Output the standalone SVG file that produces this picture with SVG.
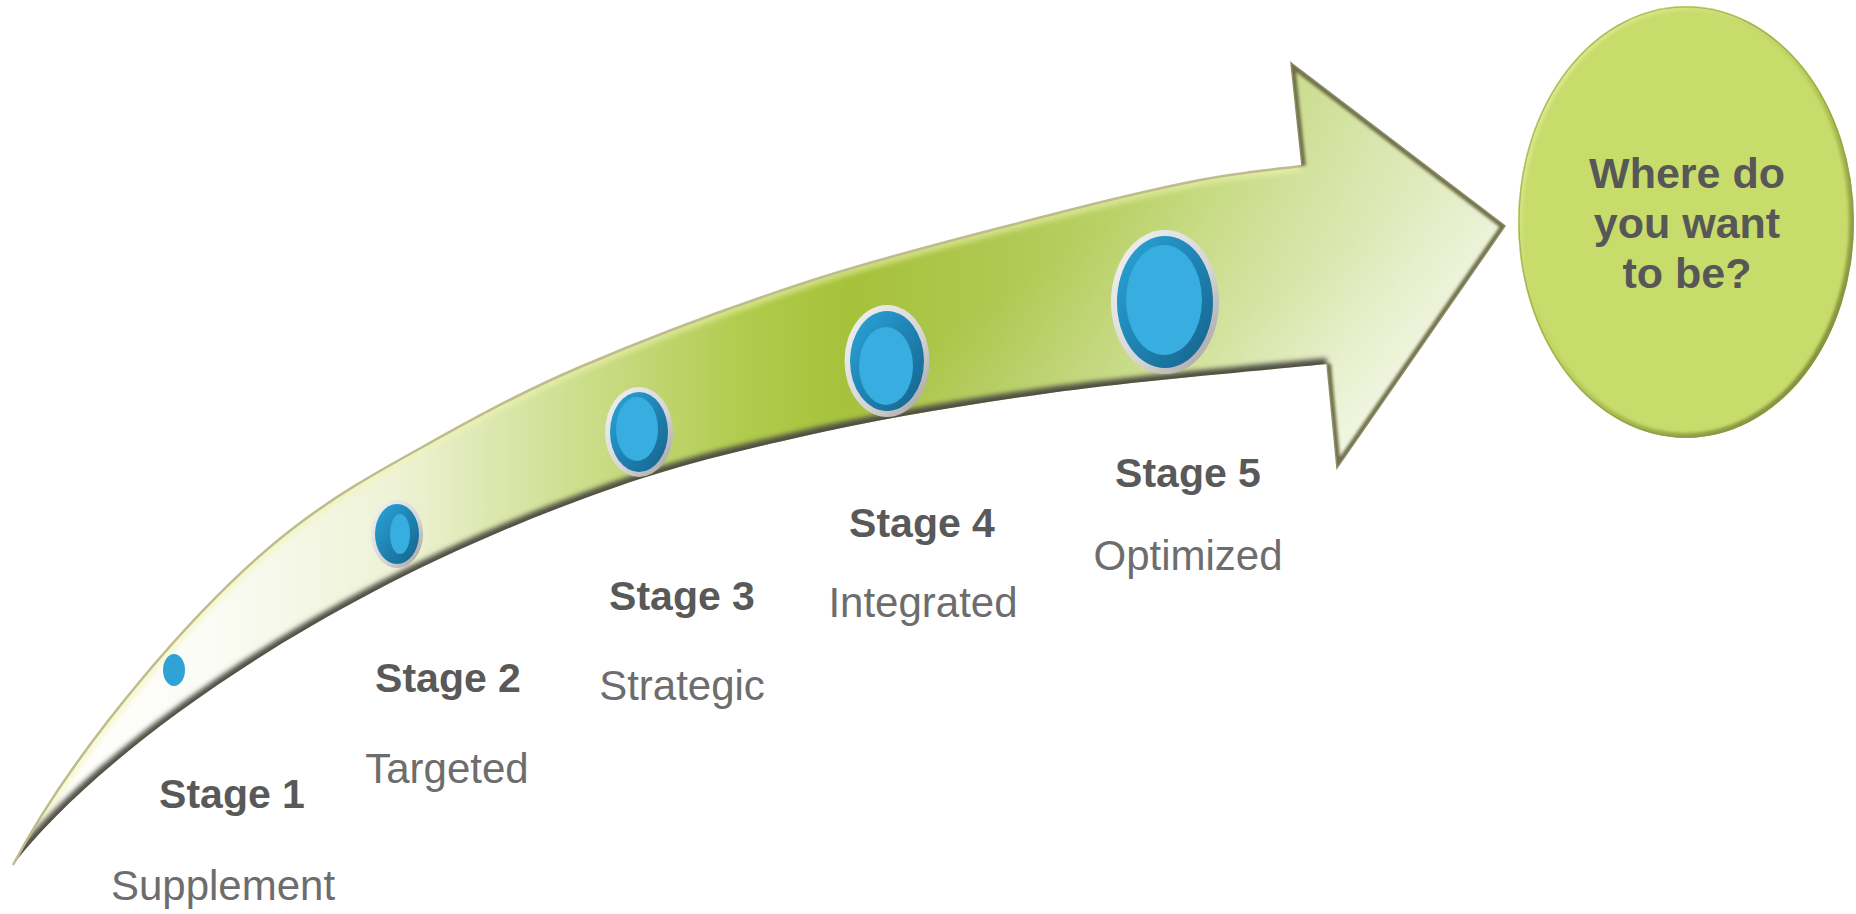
<svg xmlns="http://www.w3.org/2000/svg" xmlns:xlink="http://www.w3.org/1999/xlink" width="1856" height="914" viewBox="0 0 1856 914">
<style>
.st{font-family:"Liberation Sans",Arial,sans-serif;font-weight:bold;font-size:41px;fill:#595959;text-anchor:middle}
.sub{font-family:"Liberation Sans",Arial,sans-serif;font-size:42px;fill:#6d6d6d;text-anchor:middle}
.q{font-family:"Liberation Sans",Arial,sans-serif;font-weight:bold;font-size:43px;fill:#575757;text-anchor:middle}
.rim{fill:url(#rimGrad)}
.ring{fill:url(#ringGrad)}
.core{fill:#37ade0}
</style>
<defs>
<linearGradient id="shaftGrad" gradientUnits="userSpaceOnUse" x1="13" y1="0" x2="1505" y2="0">
<stop offset="0" stop-color="#ffffff"/>
<stop offset="0.13" stop-color="#fbfcf6"/>
<stop offset="0.26" stop-color="#edf2d4"/>
<stop offset="0.36" stop-color="#d2e198"/>
<stop offset="0.49" stop-color="#b1cb4d"/>
<stop offset="0.56" stop-color="#a6c13a"/>
<stop offset="0.66" stop-color="#afc851"/>
<stop offset="0.80" stop-color="#c3d87a"/>
<stop offset="1" stop-color="#dfe9bd"/>
</linearGradient>
<linearGradient id="headGlow" gradientUnits="userSpaceOnUse" x1="1180" y1="170" x2="1380" y2="460">
<stop offset="0" stop-color="#ffffff" stop-opacity="0"/>
<stop offset="0.45" stop-color="#ffffff" stop-opacity="0.25"/>
<stop offset="1" stop-color="#ffffff" stop-opacity="0.8"/>
</linearGradient>
<linearGradient id="rimGrad" x1="0" y1="0" x2="1" y2="1">
<stop offset="0" stop-color="#f4f4f4"/>
<stop offset="0.6" stop-color="#d4d4d4"/>
<stop offset="1" stop-color="#9c9c9c"/>
</linearGradient>
<linearGradient id="ringGrad" x1="0" y1="0" x2="1" y2="1">
<stop offset="0" stop-color="#2aa6da"/>
<stop offset="0.5" stop-color="#1f83b3"/>
<stop offset="1" stop-color="#15628a"/>
</linearGradient>
<linearGradient id="ellStroke" x1="0" y1="0" x2="1" y2="1">
<stop offset="0" stop-color="#e9f3a2"/>
<stop offset="0.5" stop-color="#b9cf5a"/>
<stop offset="1" stop-color="#6d7833"/>
</linearGradient>
<filter id="blur3" x="-5%" y="-5%" width="110%" height="110%">
<feGaussianBlur stdDeviation="2.5"/>
</filter>
<filter id="blur2" x="-5%" y="-5%" width="110%" height="110%">
<feGaussianBlur stdDeviation="1.5"/>
</filter>
<path id="arrowShape" d="M13,865 C73,751 201,597 300,523 C339.5,493.5 370.3,476 417,450 C463.7,424 514,395.3 580,367 C646,338.7 734.7,305.3 813,280 C891.3,254.7 985.5,231.7 1050,215 C1114.5,198.3 1158,188.2 1200,180 C1242,171.8 1285,168.3 1302,166 L1291,63 L1505,226 L1337,468 L1327,364 C1280.8,368.8 1137.8,380.8 1050,393 C962.2,405.2 878.3,419.2 800,437 C721.7,454.8 663.3,468.7 580,500 C300,603.6 93,761 13,865 Z"/>
<path id="botEdge" d="M1327,364 C1280.8,368.8 1137.8,380.8 1050,393 C962.2,405.2 878.3,419.2 800,437 C721.7,454.8 663.3,468.7 580,500 C300,603.6 93,761 13,865"/>
<path id="topEdge" d="M13,865 C73,751 201,597 300,523 C339.5,493.5 370.3,476 417,450 C463.7,424 514,395.3 580,367 C646,338.7 734.7,305.3 813,280 C891.3,254.7 985.5,231.7 1050,215 C1114.5,198.3 1158,188.2 1200,180 C1242,171.8 1285,168.3 1302,166"/>
<path id="headEdge" d="M1302,166 L1291,63 L1505,226 L1337,468 L1327,364"/>
<clipPath id="clipArrow"><use xlink:href="#arrowShape"/></clipPath>
<clipPath id="clipEll"><ellipse cx="1686" cy="222" rx="168" ry="216"/></clipPath>
</defs>

<g id="arrow">
<use xlink:href="#arrowShape" fill="url(#shaftGrad)"/>
<use xlink:href="#arrowShape" fill="url(#headGlow)" clip-path="url(#clipArrow)"/>
<g clip-path="url(#clipArrow)">
<use xlink:href="#topEdge" fill="none" stroke="#eef6b0" stroke-width="12" stroke-opacity="0.55" filter="url(#blur3)"/>
<use xlink:href="#botEdge" fill="none" stroke="#4f4f45" stroke-width="12" filter="url(#blur3)"/>
<use xlink:href="#headEdge" fill="none" stroke="#6f7048" stroke-width="8" filter="url(#blur2)"/>
</g>
<use xlink:href="#topEdge" fill="none" stroke="#bfbb8c" stroke-width="2.5"/>
<use xlink:href="#headEdge" fill="none" stroke="#8e8c66" stroke-width="1.5"/>
</g>

<g id="target">
<ellipse cx="1686" cy="222" rx="168" ry="216" fill="#c7dc6b"/>
<ellipse cx="1686" cy="222" rx="168" ry="216" fill="none" stroke="url(#ellStroke)" stroke-width="10" clip-path="url(#clipEll)" filter="url(#blur2)"/>
<ellipse cx="1686" cy="222" rx="167" ry="215" fill="none" stroke="#8a9444" stroke-width="1.2" stroke-opacity="0.6"/>
<text class="q" x="1687" y="188">Where do</text>
<text class="q" x="1687" y="238">you want</text>
<text class="q" x="1687" y="288">to be?</text>
</g>

<g id="stage1">
<ellipse cx="174" cy="670" rx="11" ry="16" fill="#2fa3d6"/>
<text class="st" x="232" y="808">Stage 1</text>
<text class="sub" x="223" y="900">Supplement</text>
</g>

<g id="stage2">
<ellipse class="rim" cx="397" cy="534" rx="26" ry="34"/>
<ellipse class="ring" cx="397" cy="534" rx="22" ry="30"/>
<ellipse class="core" cx="400" cy="534" rx="10" ry="20"/>
<text class="st" x="448" y="692">Stage 2</text>
<text class="sub" x="447" y="783">Targeted</text>
</g>

<g id="stage3">
<ellipse class="rim" cx="639" cy="432" rx="34" ry="45"/>
<ellipse class="ring" cx="639" cy="432" rx="29" ry="40"/>
<ellipse class="core" cx="637" cy="429" rx="21" ry="32"/>
<text class="st" x="682" y="610">Stage 3</text>
<text class="sub" x="682" y="700">Strategic</text>
</g>

<g id="stage4">
<ellipse class="rim" cx="887" cy="361" rx="42.5" ry="56"/>
<ellipse class="ring" cx="887" cy="361" rx="37" ry="50"/>
<ellipse class="core" cx="886" cy="366" rx="27" ry="39"/>
<text class="st" x="922" y="537">Stage 4</text>
<text class="sub" x="923" y="617">Integrated</text>
</g>

<g id="stage5">
<ellipse class="rim" cx="1165" cy="302" rx="54" ry="72"/>
<ellipse class="ring" cx="1165" cy="302" rx="48" ry="66"/>
<ellipse class="core" cx="1164" cy="300" rx="38" ry="55"/>
<text class="st" x="1188" y="487">Stage 5</text>
<text class="sub" x="1188" y="570">Optimized</text>
</g>
</svg>
